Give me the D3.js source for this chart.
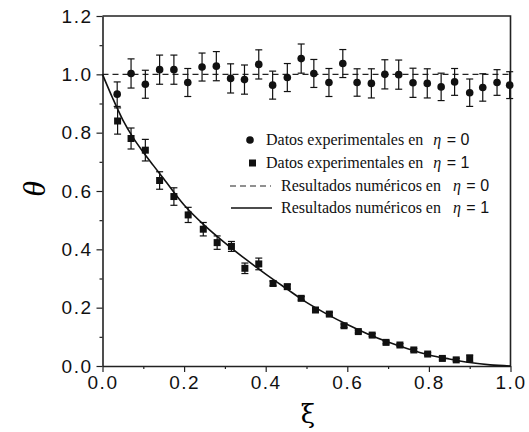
<!DOCTYPE html>
<html>
<head>
<title>theta vs xi</title>
<style>
  body { margin: 0; background: #fff; }
  .tick text { font-family: "Liberation Sans", Arial, sans-serif; font-size: 19px; letter-spacing: 1.5px; }
  .legend text { font-family: "Liberation Serif", "Times New Roman", serif; font-size: 16px; }
</style>
<script src="https://d3js.org/d3.v7.min.js"></script>
</head>
<body>
<svg width="529" height="432"></svg>
<script>
// eta = 0, experimental (circles)
var xi0 = [0.036, 0.070, 0.105, 0.140, 0.175, 0.209, 0.244, 0.279, 0.314, 0.348, 0.383, 0.417, 0.453, 0.487,
           0.518, 0.555, 0.589, 0.624, 0.659, 0.692, 0.726, 0.761, 0.796, 0.830, 0.863, 0.900, 0.932, 0.967, 0.998];
var theta0 = [0.932, 1.003, 0.966, 1.016, 1.016, 0.972, 1.025, 1.028, 0.986, 0.982, 1.034, 0.963, 0.989, 1.054,
              1.003, 0.972, 1.037, 0.972, 0.969, 1.000, 0.999, 0.971, 0.969, 0.957, 0.974, 0.937, 0.955, 0.972, 0.963];
var err0 = [0.042, 0.050, 0.048, 0.050, 0.050, 0.048, 0.048, 0.050, 0.050, 0.050, 0.050, 0.048, 0.048, 0.050,
            0.048, 0.048, 0.048, 0.047, 0.050, 0.050, 0.050, 0.050, 0.050, 0.047, 0.046, 0.047, 0.047, 0.044, 0.046];

// eta = 1, experimental (squares)
var xi1 = [0.037, 0.070, 0.105, 0.140, 0.175, 0.210, 0.247, 0.281, 0.316, 0.349, 0.383, 0.418, 0.453,
           0.487, 0.522, 0.556, 0.592, 0.627, 0.661, 0.695, 0.729, 0.763, 0.797, 0.833, 0.867, 0.900];
var theta1 = [0.840, 0.780, 0.740, 0.636, 0.581, 0.518, 0.469, 0.423, 0.410, 0.335, 0.350, 0.283, 0.272,
              0.232, 0.192, 0.178, 0.138, 0.118, 0.106, 0.081, 0.072, 0.055, 0.041, 0.026, 0.021, 0.026];
var err1 = [0.045, 0.036, 0.037, 0.030, 0.030, 0.026, 0.023, 0.023, 0.017, 0.018, 0.020, 0.008, 0.008,
            0.006, 0.006, 0.006, 0.006, 0.005, 0.005, 0.005, 0.005, 0.005, 0.005, 0.005, 0.005, 0.012];

// numerical results
var numDashed = [[0, 1.0], [1, 1.0]];
var numXi = [0, 0.025, 0.05, 0.075, 0.1, 0.125, 0.15, 0.2, 0.25, 0.3, 0.35, 0.4, 0.45, 0.5,
             0.55, 0.6, 0.65, 0.7, 0.75, 0.8, 0.85, 0.9, 0.95, 1.0];
var numTheta = [1.0, 0.918, 0.843, 0.783, 0.733, 0.687, 0.642, 0.552, 0.482, 0.422, 0.367, 0.315, 0.266, 0.218,
                0.178, 0.142, 0.110, 0.082, 0.058, 0.038, 0.024, 0.012, 0.004, 0.0];

var xTicks = [0, 0.2, 0.4, 0.6, 0.8, 1.0];
var yTicks = [0, 0.2, 0.4, 0.6, 0.8, 1.0, 1.2];

var svg = d3.select("svg");
var pLeft = 102.5, pRight = 510.5, pTop = 16, pBottom = 366;

var x = d3.scaleLinear().domain([0, 1]).range([pLeft, pRight]);
var y = d3.scaleLinear().domain([0, 1.2]).range([pBottom, pTop]);

// frame (top and right)
svg.append("path")
   .attr("d", "M" + pLeft + "," + pTop + "H" + pRight + "V" + pBottom)
   .attr("fill", "none").attr("stroke", "#222").attr("stroke-width", 1.6);

// minor ticks
var xAxisMinor = d3.axisBottom(x).tickValues([0.1, 0.3, 0.5, 0.7, 0.9]).tickSize(3).tickFormat("");
var yAxisMinor = d3.axisLeft(y).tickValues([0.1, 0.3, 0.5, 0.7, 0.9, 1.1]).tickSize(3).tickFormat("");
svg.append("g").attr("transform", "translate(0," + pBottom + ")").call(xAxisMinor)
   .call(function(g) { g.select(".domain").remove(); });
svg.append("g").attr("transform", "translate(" + pLeft + ",0)").call(yAxisMinor)
   .call(function(g) { g.select(".domain").remove(); });

svg.append("g")
   .attr("transform", "translate(0," + pBottom + ")")
   .call(d3.axisBottom(x).tickValues(xTicks).tickSize(6).tickSizeOuter(0).tickPadding(4).tickFormat(d3.format(".1f")));
svg.append("g")
   .attr("transform", "translate(" + pLeft + ",0)")
   .call(d3.axisLeft(y).tickValues(yTicks).tickSize(6).tickSizeOuter(0).tickPadding(4).tickFormat(d3.format(".1f")));
svg.selectAll(".domain").attr("stroke", "#222").attr("stroke-width", 1.6);
svg.selectAll(".tick line").attr("stroke", "#222").attr("stroke-width", 1.2);
svg.selectAll(".tick text").attr("fill", "#111");

// axis titles
svg.append("text")
   .attr("transform", "translate(34,189) rotate(-90)")
   .attr("text-anchor", "middle")
   .attr("dominant-baseline", "central")
   .style("font-family", "'Liberation Serif', serif")
   .style("font-style", "italic")
   .style("font-size", "32px")
   .text("θ");
svg.append("text")
   .attr("x", 308).attr("y", 423)
   .attr("text-anchor", "middle")
   .style("font-family", "'DejaVu Serif', serif")
   .style("font-size", "26px")
   .text("ξ");

// numerical curves
svg.append("path")
   .datum(numDashed)
   .attr("d", d3.line().x(function(d) { return x(d[0]); }).y(function(d) { return y(d[1]); }))
   .attr("fill", "none").attr("stroke", "#222").attr("stroke-width", 1.2).attr("stroke-dasharray", "6,4");

svg.append("path")
   .datum(numXi.map(function(v, i) { return [v, numTheta[i]]; }))
   .attr("d", d3.line().curve(d3.curveMonotoneX).x(function(d) { return x(d[0]); }).y(function(d) { return y(d[1]); }))
   .attr("fill", "none").attr("stroke", "#111").attr("stroke-width", 1.6);

// error bars
function errorBars(xs, ys, es) {
  var g = svg.append("g").attr("stroke", "#111").attr("stroke-width", 1.2);
  xs.forEach(function(v, i) {
    var cx = x(v), y1 = y(ys[i] + es[i]), y2 = y(ys[i] - es[i]);
    g.append("line").attr("x1", cx).attr("x2", cx).attr("y1", y1).attr("y2", y2);
    g.append("line").attr("x1", cx - 3.5).attr("x2", cx + 3.5).attr("y1", y1).attr("y2", y1);
    g.append("line").attr("x1", cx - 3.5).attr("x2", cx + 3.5).attr("y1", y2).attr("y2", y2);
  });
}
errorBars(xi0, theta0, err0);
errorBars(xi1, theta1, err1);

svg.append("g").selectAll("circle")
   .data(xi0).enter().append("circle")
   .attr("cx", function(d) { return x(d); })
   .attr("cy", function(d, i) { return y(theta0[i]); })
   .attr("r", 3.8).attr("fill", "#111");

svg.append("g").selectAll("rect")
   .data(xi1).enter().append("rect")
   .attr("x", function(d) { return x(d) - 3.5; })
   .attr("y", function(d, i) { return y(theta1[i]) - 3.5; })
   .attr("width", 7).attr("height", 7).attr("fill", "#111");

// legend
var legend = svg.append("g").attr("class", "legend");
var rows = [
  { label: "Datos experimentales en ", eta: "0", ty: 145, tx: 266, gap: 6 },
  { label: "Datos experimentales en ", eta: "1", ty: 168, tx: 266, gap: 6 },
  { label: "Resultados numéricos en ", eta: "0", ty: 191, tx: 281, gap: 8 },
  { label: "Resultados numéricos en ", eta: "1", ty: 213, tx: 281, gap: 8 }
];
rows.forEach(function(r) {
  var t = legend.append("text").attr("x", r.tx).attr("y", r.ty).attr("fill", "#111");
  t.append("tspan").text(r.label);
  t.append("tspan").attr("dx", r.gap).style("font-style", "italic").text("η");
  t.append("tspan").attr("dx", 1).style("font-family", "'Liberation Sans', sans-serif").text(" = " + r.eta);
});
legend.append("circle").attr("cx", 250).attr("cy", 140).attr("r", 3.8).attr("fill", "#111");
legend.append("rect").attr("x", 249).attr("y", 159.5).attr("width", 7).attr("height", 7).attr("fill", "#111");
legend.append("line").attr("x1", 230).attr("x2", 271).attr("y1", 186).attr("y2", 186)
   .attr("stroke", "#222").attr("stroke-width", 1.2).attr("stroke-dasharray", "6,4");
legend.append("line").attr("x1", 231).attr("x2", 272).attr("y1", 208).attr("y2", 208)
   .attr("stroke", "#111").attr("stroke-width", 1.3);
</script>
</body>
</html>
